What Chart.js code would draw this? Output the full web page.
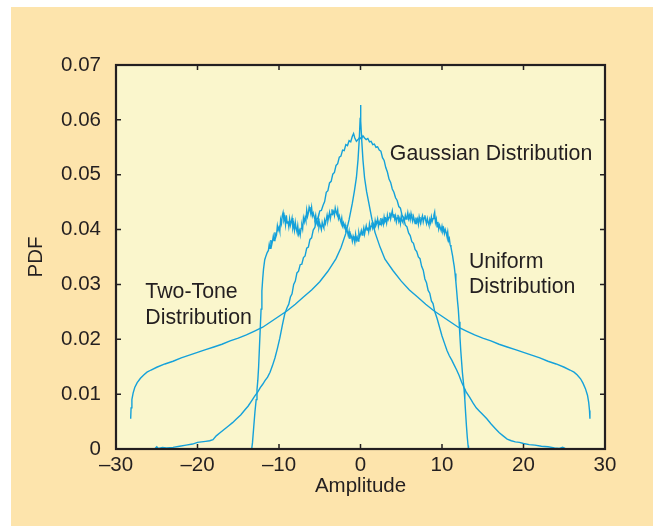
<!DOCTYPE html>
<html>
<head>
<meta charset="utf-8">
<script src="https://cdn.jsdelivr.net/npm/chart.js@4"></script>
<style>
    html, body { margin: 0; padding: 0; background: #fff; }
    #wrap { position: absolute; left: 11px; top: 7px; width: 642px; height: 519px; background: #fde4ac; }
</style>
</head>
<body>
<div id="wrap"><canvas id="pdfChart" width="642" height="519"></canvas></div>
<script>
// Axis ticks
const xTicks = [-30, -20, -10, 0, 10, 20, 30];
const yTicks = [0, 0.01, 0.02, 0.03, 0.04, 0.05, 0.06, 0.07];

// Two-tone distribution (amplitude, pdf)
const twoTonePts = [
    [-28.2, 0.0055], [-28.15, 0.0075], [-28.05, 0.0090], [-27.9, 0.0102], [-27.7, 0.0112], [-27.4, 0.0121],
    [-27.0, 0.0129], [-26.6, 0.0135], [-26.2, 0.0140], [-25.7, 0.0144], [-25.0, 0.0149], [-24.0, 0.0155],
    [-23.0, 0.0160], [-22.0, 0.0166], [-21.0, 0.0171], [-20.0, 0.0176], [-19.0, 0.0181], [-18.0, 0.0186],
    [-17.0, 0.0191], [-16.0, 0.0197], [-15.0, 0.0202], [-14.0, 0.0208], [-13.0, 0.0215], [-12.0, 0.0222],
    [-11.0, 0.0232], [-10.0, 0.0242], [-9.0, 0.0252], [-8.0, 0.0264], [-7.0, 0.0277], [-6.0, 0.0290],
    [-5.0, 0.0305], [-4.0, 0.0324], [-3.0, 0.0347], [-2.4, 0.0367], [-1.8, 0.0393], [-1.4, 0.0418],
    [-1.0, 0.0448], [-0.75, 0.0470], [-0.5, 0.0495], [-0.3, 0.0528], [-0.15, 0.0565], [-0.05, 0.0600],
    [0, 0.0627],
    [0.05, 0.0598], [0.15, 0.0563], [0.3, 0.0527], [0.5, 0.0494], [0.75, 0.0469], [1.0, 0.0450],
    [1.4, 0.0419], [1.8, 0.0394], [2.4, 0.0368], [3.0, 0.0346], [4.0, 0.0325], [5.0, 0.0306],
    [6.0, 0.0290], [7.0, 0.0277], [8.0, 0.0264], [9.0, 0.0252], [10.0, 0.0242], [11.0, 0.0232],
    [12.0, 0.0222], [13.0, 0.0215], [14.0, 0.0208], [15.0, 0.0202], [16.0, 0.0197], [17.0, 0.0191],
    [18.0, 0.0186], [19.0, 0.0181], [20.0, 0.0176], [21.0, 0.0171], [22.0, 0.0166], [23.0, 0.0160],
    [24.0, 0.0155], [25.0, 0.0149], [25.7, 0.0144], [26.2, 0.0140], [26.6, 0.0135], [27.0, 0.0128],
    [27.3, 0.0120], [27.6, 0.0110], [27.85, 0.0098], [28.0, 0.0085], [28.1, 0.0070], [28.15, 0.0055]
];

// Gaussian distribution
const gaussianPts = [
    [-25.2, 0.0001], [-25.0, 0.0004], [-24.8, 0.0001], [-24.3, 0.0003], [-23.8, 0.0002], [-23.0, 0.0003],
    [-22.2, 0.0005], [-21.4, 0.0007], [-20.6, 0.0009], [-20.0, 0.0012], [-19.5, 0.0013], [-19.0, 0.0014],
    [-18.5, 0.0015], [-18.1, 0.0017], [-17.7, 0.0024], [-17.2, 0.0030], [-16.7, 0.0036], [-16.2, 0.0042],
    [-15.7, 0.0048], [-15.2, 0.0055], [-14.7, 0.0062], [-14.2, 0.0071], [-13.8, 0.0078], [-13.4, 0.0087],
    [-13.0, 0.0096], [-12.6, 0.0104], [-12.3, 0.0112], [-12.0, 0.0118], [-11.7, 0.0125], [-11.4, 0.0131],
    [-11.1, 0.0140], [-10.8, 0.0152], [-10.5, 0.0166], [-10.2, 0.0183], [-9.9, 0.0202], [-9.6, 0.0225],
    [-9.3, 0.0246], [-9.0, 0.0258], [-8.8, 0.0264], [-8.6, 0.0277], [-8.4, 0.0283], [-8.2, 0.0300],
    [-8.0, 0.0306], [-7.8, 0.0321], [-7.6, 0.0324], [-7.4, 0.0336], [-7.2, 0.0337], [-7.0, 0.0349],
    [-6.8, 0.0352], [-6.6, 0.0366], [-6.4, 0.0368], [-6.2, 0.0382], [-6.0, 0.0385], [-5.8, 0.0399],
    [-5.6, 0.0404], [-5.4, 0.0419], [-5.2, 0.0421], [-5.0, 0.0434], [-4.8, 0.0435], [-4.6, 0.0444],
    [-4.4, 0.0451], [-4.2, 0.0468], [-4.0, 0.0471], [-3.8, 0.0485], [-3.6, 0.0488], [-3.4, 0.0501],
    [-3.2, 0.0504], [-3.0, 0.0517], [-2.8, 0.0520], [-2.6, 0.0532], [-2.4, 0.0534], [-2.2, 0.0545],
    [-2.0, 0.0544], [-1.8, 0.0555], [-1.6, 0.0553], [-1.4, 0.0562], [-1.2, 0.0560], [-1.0, 0.0570],
    [-0.85, 0.0575], [-0.7, 0.0567], [-0.5, 0.0561], [-0.3, 0.0564], [-0.1, 0.0568], [0.1, 0.0565],
    [0.3, 0.0571], [0.5, 0.0567], [0.7, 0.0564], [0.9, 0.0566], [1.1, 0.0560], [1.3, 0.0561],
    [1.5, 0.0555], [1.7, 0.0556], [1.9, 0.0550], [2.1, 0.0551], [2.3, 0.0545], [2.5, 0.0543],
    [2.7, 0.0531], [2.9, 0.0526], [3.1, 0.0513], [3.3, 0.0505], [3.5, 0.0492], [3.7, 0.0486],
    [3.9, 0.0474], [4.1, 0.0468], [4.3, 0.0458], [4.5, 0.0453], [4.7, 0.0442], [4.9, 0.0439],
    [5.1, 0.0426], [5.3, 0.0420], [5.5, 0.0408], [5.7, 0.0405], [5.9, 0.0394], [6.1, 0.0389],
    [6.3, 0.0378], [6.5, 0.0375], [6.7, 0.0364], [6.9, 0.0360], [7.1, 0.0350], [7.3, 0.0347],
    [7.5, 0.0333], [7.7, 0.0326], [7.9, 0.0310], [8.1, 0.0303], [8.3, 0.0289], [8.5, 0.0284],
    [8.7, 0.0270], [8.9, 0.0265], [9.1, 0.0251],
    [9.4, 0.0238], [9.7, 0.0222], [10.0, 0.0206], [10.3, 0.0193], [10.6, 0.0180], [10.9, 0.0170],
    [11.2, 0.0162], [11.5, 0.0153], [11.8, 0.0144], [12.1, 0.0134], [12.4, 0.0122], [12.7, 0.0112],
    [13.0, 0.0103], [13.4, 0.0094], [13.8, 0.0084], [14.2, 0.0075], [14.6, 0.0069], [15.0, 0.0063],
    [15.5, 0.0055], [16.0, 0.0046], [16.5, 0.0038], [17.0, 0.0030], [17.5, 0.0024], [18.0, 0.0018],
    [18.5, 0.0015], [19.0, 0.0013], [19.5, 0.0012], [20.0, 0.0010], [20.7, 0.0008], [21.4, 0.0007],
    [22.2, 0.0005], [23.0, 0.0004], [23.8, 0.0002], [24.4, 0.0001], [24.8, 0.0003], [25.1, 0.0001]
];

// Uniform distribution (noisy flat top)
const uniformPts = [
    [-13.35, 0.0000], [-13.25, 0.0012], [-13.1, 0.0040], [-12.95, 0.0068], [-12.8, 0.0090], [-12.7, 0.0108],
    [-12.6, 0.0125], [-12.5, 0.0150], [-12.4, 0.0185], [-12.3, 0.0220], [-12.2, 0.0255], [-12.1, 0.0288],
    [-12.0, 0.0310], [-11.9, 0.0328], [-11.75, 0.0345], [-11.6, 0.0352], [-11.45, 0.0358], [-11.3, 0.0362],
    [-11.2, 0.0373], [-11.1, 0.0366], [-11.0, 0.0381], [-10.9, 0.0372], [-10.8, 0.0379], [-10.7, 0.0388],
    [-10.6, 0.0380], [-10.5, 0.0395], [-10.4, 0.0386], [-10.3, 0.0391], [-10.2, 0.0407], [-10.1, 0.0399],
    [-10.0, 0.0404], [-9.9, 0.0397], [-9.8, 0.0418], [-9.7, 0.0411], [-9.6, 0.0425], [-9.5, 0.0431],
    [-9.4, 0.0417], [-9.3, 0.0422], [-9.2, 0.0409], [-9.1, 0.0426], [-9.0, 0.0412], [-8.9, 0.0415],
    [-8.8, 0.0405], [-8.7, 0.0419], [-8.6, 0.0408], [-8.5, 0.0414], [-8.4, 0.0421], [-8.3, 0.0403],
    [-8.2, 0.0410], [-8.1, 0.0399], [-8.0, 0.0413], [-7.9, 0.0402], [-7.8, 0.0396], [-7.7, 0.0407],
    [-7.6, 0.0392], [-7.5, 0.0398], [-7.4, 0.0390], [-7.3, 0.0402], [-7.2, 0.0408], [-7.1, 0.0401],
    [-7.0, 0.0421], [-6.9, 0.0414], [-6.8, 0.0422], [-6.7, 0.0416], [-6.6, 0.0435], [-6.5, 0.0424],
    [-6.4, 0.0430], [-6.3, 0.0441], [-6.2, 0.0436], [-6.1, 0.0429], [-6.0, 0.0440], [-5.9, 0.0425],
    [-5.8, 0.0430], [-5.7, 0.0424], [-5.6, 0.0419], [-5.5, 0.0426], [-5.4, 0.0413], [-5.3, 0.0409],
    [-5.2, 0.0420], [-5.1, 0.0404], [-5.0, 0.0411], [-4.9, 0.0406], [-4.8, 0.0400], [-4.7, 0.0413],
    [-4.6, 0.0407], [-4.5, 0.0403], [-4.4, 0.0417], [-4.3, 0.0411], [-4.2, 0.0418], [-4.1, 0.0426],
    [-4.0, 0.0416], [-3.9, 0.0423], [-3.8, 0.0431], [-3.7, 0.0420], [-3.6, 0.0428], [-3.5, 0.0437],
    [-3.4, 0.0429], [-3.3, 0.0433], [-3.2, 0.0426], [-3.1, 0.0439], [-3.0, 0.0432], [-2.9, 0.0428],
    [-2.8, 0.0436], [-2.7, 0.0420], [-2.6, 0.0425], [-2.5, 0.0418], [-2.4, 0.0413], [-2.3, 0.0421],
    [-2.2, 0.0407], [-2.1, 0.0412], [-2.0, 0.0404], [-1.9, 0.0409], [-1.8, 0.0398], [-1.7, 0.0401],
    [-1.6, 0.0396], [-1.5, 0.0389], [-1.4, 0.0397], [-1.3, 0.0383], [-1.2, 0.0391], [-1.1, 0.0387],
    [-1.0, 0.0379], [-0.9, 0.0388], [-0.8, 0.0383], [-0.7, 0.0376], [-0.6, 0.0391], [-0.5, 0.0381],
    [-0.4, 0.0386], [-0.3, 0.0379], [-0.2, 0.0394], [-0.1, 0.0387], [0.0, 0.0392], [0.1, 0.0398],
    [0.2, 0.0390], [0.3, 0.0396], [0.4, 0.0403], [0.5, 0.0392], [0.6, 0.0400], [0.7, 0.0407],
    [0.8, 0.0399], [0.9, 0.0404], [1.0, 0.0396], [1.1, 0.0410], [1.2, 0.0401], [1.3, 0.0406],
    [1.4, 0.0413], [1.5, 0.0403], [1.6, 0.0409], [1.7, 0.0402], [1.8, 0.0416], [1.9, 0.0408],
    [2.0, 0.0412], [2.1, 0.0419], [2.2, 0.0406], [2.3, 0.0414], [2.4, 0.0409], [2.5, 0.0421],
    [2.6, 0.0411], [2.7, 0.0417], [2.8, 0.0410], [2.9, 0.0423], [3.0, 0.0415], [3.1, 0.0419],
    [3.2, 0.0412], [3.3, 0.0426], [3.4, 0.0418], [3.5, 0.0422], [3.6, 0.0431], [3.7, 0.0420],
    [3.8, 0.0427], [3.9, 0.0434], [4.0, 0.0423], [4.1, 0.0428], [4.2, 0.0419], [4.3, 0.0425],
    [4.4, 0.0414], [4.5, 0.0421], [4.6, 0.0427], [4.7, 0.0415], [4.8, 0.0420], [4.9, 0.0411],
    [5.0, 0.0424], [5.1, 0.0416], [5.2, 0.0413], [5.3, 0.0421], [5.4, 0.0417], [5.5, 0.0426],
    [5.6, 0.0419], [5.7, 0.0423], [5.8, 0.0431], [5.9, 0.0420], [6.0, 0.0426], [6.1, 0.0418],
    [6.2, 0.0429], [6.3, 0.0421], [6.4, 0.0415], [6.5, 0.0424], [6.6, 0.0418], [6.7, 0.0411],
    [6.8, 0.0422], [6.9, 0.0414], [7.0, 0.0419], [7.1, 0.0410], [7.2, 0.0423], [7.3, 0.0416],
    [7.4, 0.0412], [7.5, 0.0420], [7.6, 0.0425], [7.7, 0.0414], [7.8, 0.0421], [7.9, 0.0426],
    [8.0, 0.0417], [8.1, 0.0411], [8.2, 0.0420], [8.3, 0.0413], [8.4, 0.0408], [8.5, 0.0418],
    [8.6, 0.0412], [8.7, 0.0423], [8.8, 0.0415], [8.9, 0.0420], [9.0, 0.0426], [9.1, 0.0432],
    [9.2, 0.0413], [9.3, 0.0419], [9.4, 0.0405], [9.5, 0.0414], [9.6, 0.0401], [9.7, 0.0408],
    [9.8, 0.0403], [9.9, 0.0398], [10.0, 0.0406], [10.1, 0.0397], [10.2, 0.0402], [10.3, 0.0393],
    [10.4, 0.0400], [10.5, 0.0395], [10.6, 0.0388], [10.7, 0.0396], [10.8, 0.0380], [10.9, 0.0384],
    [11.0, 0.0372], [11.1, 0.0368], [11.2, 0.0360], [11.3, 0.0352], [11.4, 0.0342], [11.5, 0.0333],
    [11.6, 0.0320], [11.7, 0.0305], [11.8, 0.0288], [11.9, 0.0270], [12.0, 0.0255], [12.1, 0.0232],
    [12.2, 0.0205], [12.3, 0.0180], [12.4, 0.0160], [12.5, 0.0140], [12.6, 0.0125], [12.7, 0.0110],
    [12.8, 0.0090], [12.9, 0.0065], [13.0, 0.0042], [13.1, 0.0022], [13.2, 0.0006], [13.25, 0.0000]
];

// Curve labels, anchored in data units (left edge / baseline of first line)
const curveLabels = [
    { lines: ['Gaussian Distribution'], x: 3.6, y: 0.0527 },
    { lines: ['Uniform', 'Distribution'], x: 13.3, y: 0.0330 },
    { lines: ['Two-Tone', 'Distribution'], x: -26.4, y: 0.0275 }
];

const LINE_COLOR = '#14a1da';
const TEXT_COLOR = '#231f20';
const PLOT_BG = '#faf6cc';
const FONT_FAMILY = '"Liberation Sans", Arial, Helvetica, sans-serif';
const FONT_SIZE = 20.5;
const LABEL_SIZE = 21.3;

function toXY(pts) {
    return pts.map(p => ({ x: p[0], y: p[1] }));
}

function curve(pts) {
    return {
        data: toXY(pts),
        showLine: true,
        borderColor: LINE_COLOR,
        borderWidth: 1.4,
        pointRadius: 0,
        tension: 0
    };
}

// Plot background, frame, inward tick marks on all four sides, curve labels
const framePlugin = {
    id: 'frame',
    beforeDatasetsDraw(chart) {
        const { ctx, chartArea: a } = chart;
        ctx.save();
        ctx.fillStyle = PLOT_BG;
        ctx.fillRect(a.left, a.top, a.right - a.left, a.bottom - a.top);
        ctx.restore();
    },
    afterDatasetsDraw(chart) {
        const { ctx, chartArea: a, scales } = chart;
        const tl = 5;
        ctx.save();
        ctx.strokeStyle = TEXT_COLOR;
        ctx.lineWidth = 1.5;
        ctx.beginPath();
        xTicks.forEach(v => {
            const px = scales.x.getPixelForValue(v);
            ctx.moveTo(px, a.bottom); ctx.lineTo(px, a.bottom - tl);
            ctx.moveTo(px, a.top); ctx.lineTo(px, a.top + tl);
        });
        yTicks.forEach(v => {
            const py = scales.y.getPixelForValue(v);
            ctx.moveTo(a.left, py); ctx.lineTo(a.left + tl, py);
            ctx.moveTo(a.right, py); ctx.lineTo(a.right - tl, py);
        });
        ctx.stroke();
        ctx.lineWidth = 2.2;
        ctx.strokeRect(a.left, a.top, a.right - a.left, a.bottom - a.top);

        ctx.fillStyle = TEXT_COLOR;
        ctx.font = LABEL_SIZE + 'px ' + FONT_FAMILY;
        ctx.textAlign = 'left';
        ctx.textBaseline = 'alphabetic';
        curveLabels.forEach(lbl => {
            const px = scales.x.getPixelForValue(lbl.x);
            const py = scales.y.getPixelForValue(lbl.y);
            lbl.lines.forEach((t, i) => ctx.fillText(t, px, py + i * 25.5));
        });
        ctx.restore();
    }
};

const tickFont = { family: FONT_FAMILY, size: FONT_SIZE };

new Chart(document.getElementById('pdfChart'), {
    type: 'scatter',
    data: {
        datasets: [curve(gaussianPts), curve(uniformPts), curve(twoTonePts)]
    },
    options: {
        responsive: false,
        animation: false,
        layout: { padding: { left: 0, top: 58, right: 48, bottom: 0 } },
        plugins: {
            legend: { display: false },
            tooltip: { enabled: false }
        },
        scales: {
            x: {
                type: 'linear',
                min: -30,
                max: 30,
                afterBuildTicks: s => { s.ticks = xTicks.map(v => ({ value: v })); },
                afterFit: s => { s.height = 77; },
                grid: { display: false, drawTicks: false },
                border: { display: false },
                ticks: {
                    padding: 4,
                    color: TEXT_COLOR,
                    font: tickFont,
                    maxRotation: 0,
                    callback: v => v < 0 ? '\u2013' + Math.abs(v) : String(v)
                },
                title: {
                    display: true,
                    text: 'Amplitude',
                    color: TEXT_COLOR,
                    font: tickFont,
                    padding: { top: 0, bottom: 27 }
                }
            },
            y: {
                min: 0,
                max: 0.07,
                afterBuildTicks: s => { s.ticks = yTicks.map(v => ({ value: v })); },
                afterFit: s => { s.width = 105; },
                grid: { display: false, drawTicks: false },
                border: { display: false },
                ticks: {
                    padding: 15,
                    color: TEXT_COLOR,
                    font: tickFont,
                    callback: v => v === 0 ? '0' : v.toFixed(2)
                },
                title: {
                    display: true,
                    text: 'PDF',
                    color: TEXT_COLOR,
                    font: tickFont,
                    padding: { top: 13, bottom: 0 }
                }
            }
        }
    },
    plugins: [framePlugin]
});
</script>
</body>
</html>
